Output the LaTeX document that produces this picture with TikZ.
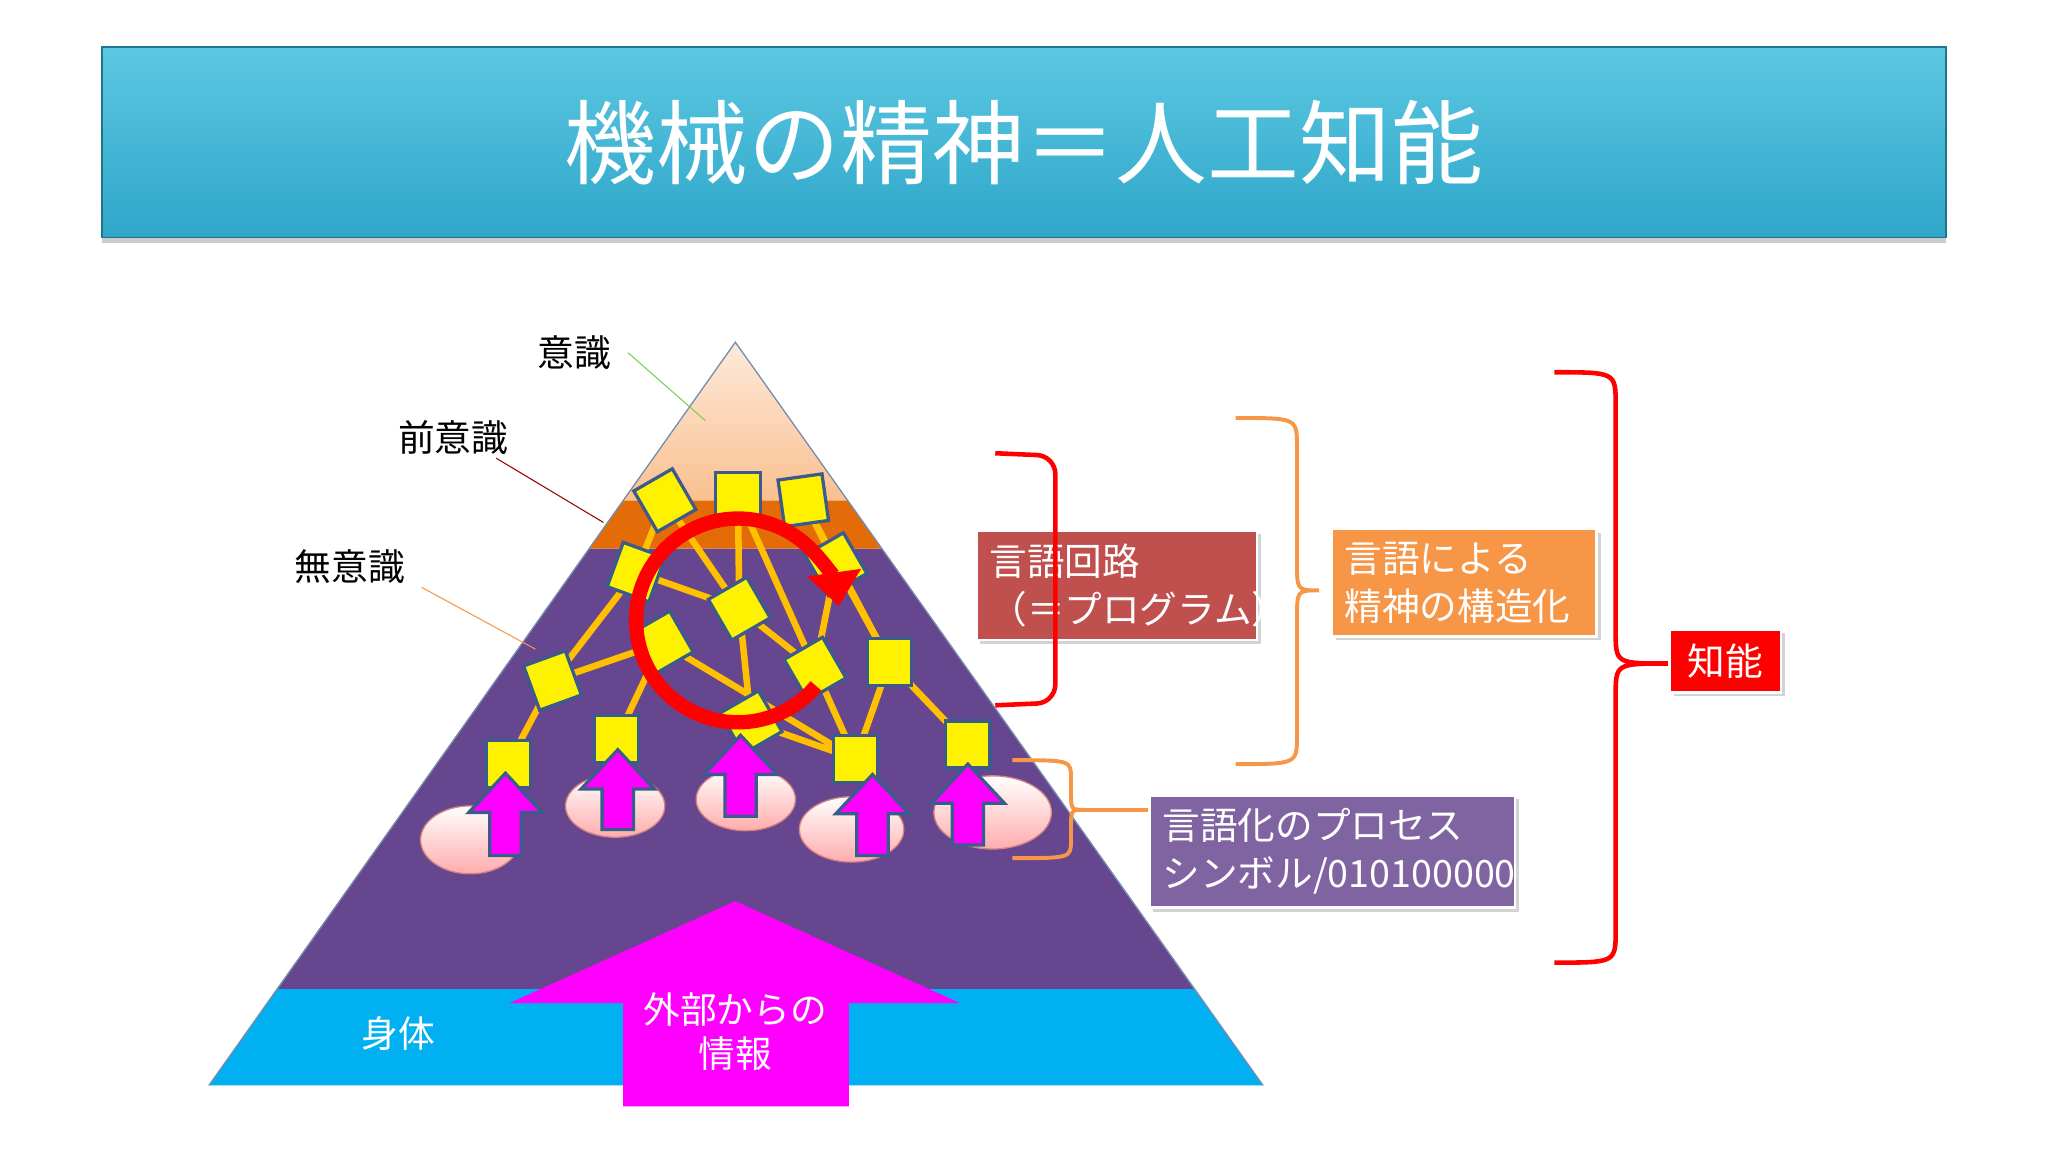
\documentclass[tikz,border=0pt]{standalone}
\usepackage{fontspec}
\setmainfont{Noto Sans CJK JP}
\usetikzlibrary{shadows,arrows.meta,calc}
\definecolor{tbar}{HTML}{2FA6C9}
\definecolor{tbarT}{HTML}{5CC8E2}
\definecolor{purp}{HTML}{66468E}
\definecolor{sky}{HTML}{00B0F0}
\definecolor{orng}{HTML}{E36C09}
\definecolor{peachT}{HTML}{FDEADA}
\definecolor{peachB}{HTML}{FAC090}
\definecolor{netc}{HTML}{FFC000}
\definecolor{sqb}{HTML}{3B5B8C}
\definecolor{boxred}{HTML}{C0504D}
\definecolor{boxor}{HTML}{F79646}
\definecolor{boxpu}{HTML}{8064A2}
\definecolor{mag}{HTML}{FF00FF}
\tikzset{
 sq/.style={draw=sqb,line width=0.25mm,fill=yellow,minimum width=3.4mm,minimum height=3.6mm,inner sep=0},
 net/.style={netc,line width=0.5mm},
 lbl/.style={font=\fontsize{8}{10}\selectfont,inner sep=0},
 tbox/.style={draw=white,line width=0.2mm,text=white,align=left,font=\fontsize{8.2}{10.5}\selectfont,drop shadow={opacity=0.35,shadow xshift=0.3mm,shadow yshift=-0.3mm},inner sep=1mm,anchor=center},
 pel/.style={draw=boxred!70,line width=0.1mm,top color=white,bottom color=pink!90!red},
 marr/.style={fill=mag,draw=sqb,line width=0.25mm,line join=miter},
}
\newcommand\magarr[3]{\filldraw[marr] (#1-12,#3) -- (#1+12,#3) -- (#1+12,#2+30) -- (#1+28,#2+30) -- (#1,#2) -- (#1-28,#2+30) -- (#1-12,#2+30) -- cycle;}
\newcommand\bracep[7]{(#1,#2) .. controls (#4,#2) .. (#4,#2+#7) -- (#4,#6-#7) .. controls (#4,#6) .. (#5,#6) .. controls (#4,#6) .. (#4,#6+#7) -- (#4,#3-#7) .. controls (#4,#3) .. (#1,#3)}
\begin{document}
\begin{tikzpicture}[x=0.1mm,y=-0.1mm]
\useasboundingbox (0,0) rectangle (1568,882);
% title
\node[draw=tbar!70!black,line width=0.1mm,top color=tbarT,bottom color=tbar,minimum width=141.2mm,minimum height=14.6mm,inner sep=0,drop shadow={opacity=0.4,shadow xshift=0mm,shadow yshift=-0.4mm},text=white,font=\fontsize{20}{24}\selectfont] (title) at (784,109) {機械の精神＝人工知能};
% pyramid
\fill[sky] (212,757) -- (914,757) -- (967,831) -- (160,831) -- cycle;
\fill[purp] (451,420) -- (675,420) -- (914,757) -- (212,757) -- cycle;
\fill[orng] (477,383) -- (649,383) -- (675,420) -- (451,420) -- cycle;
\shade[top color=peachT,bottom color=peachB] (563,262) -- (649,383) -- (477,383) -- cycle;
\draw[sqb!70,line width=0.1mm] (160,831) -- (563,262) -- (967,831);
% big arrow
\fill[mag] (477,847) -- (650,847) -- (650,768) -- (735,768) -- (563,690) -- (390,768) -- (477,768) -- cycle;
\node[text=white,align=center,lbl,font=\fontsize{8}{9.5}\selectfont] (ext) at (563,790) {外部からの\\情報};
\node[text=white,lbl] (body) at (305,791) {身体};
% labels
\node[lbl] (l1) at (440,270) {意識};
\node[lbl] (l2) at (347,335) {前意識};
\node[lbl] (l3) at (268,434) {無意識};
\coordinate (p1) at (540,322); \coordinate (p2) at (462,400); \coordinate (p3) at (410,497);
\draw[green!50!olive!70,line width=0.08mm] (l1.east) ++(12,0) -- (p1);
\draw[red!60!black,line width=0.08mm] (l2.south east) ++(-10,2) -- (p2);
\draw[boxor,line width=0.08mm] (l3.south east) ++(12,2) -- (p3);
% network nodes
\coordinate (A) at (509,383); \coordinate (B) at (565,380); \coordinate (C) at (615,383);
\coordinate (D) at (487,438); \coordinate (E) at (566,466); \coordinate (F) at (507,492);
\coordinate (G) at (640,432); \coordinate (H) at (681,507); \coordinate (I) at (624,512);
\coordinate (J) at (423,521); \coordinate (K) at (389,585); \coordinate (L) at (472,566);
\coordinate (M) at (575,553); \coordinate (N) at (655,581); \coordinate (O) at (741,570);
\draw[net] (K)--(J) (J)--(D) (J)--(F) (L)--(F) (D)--(E) (A)--(E) (B)--(E) (B)--(I)
 (C)--(G) (G)--(I) (E)--(I) (E)--(M) (F)--(N) (I)--(N) (M)--(N) (N)--(H) (H)--(O) (H)--(G) (C)--(H) (D)--(A);
\node[sq,rotate=30] (nA) at (A) {}; \node[sq] (nB) at (B) {}; \node[sq,rotate=8] (nC) at (C) {};
\node[sq,rotate=-20] (nD) at (D) {}; \node[sq,rotate=30] (nE) at (E) {}; \node[sq,rotate=30] (nF) at (F) {};
\node[sq,rotate=30] (nG) at (G) {}; \node[sq] (nH) at (H) {}; \node[sq,rotate=30] (nI) at (I) {};
\node[sq,rotate=20] (nJ) at (J) {}; \node[sq] (nK) at (K) {}; \node[sq] (nL) at (L) {};
\node[sq,rotate=30] (nM) at (M) {}; \node[sq] (nN) at (N) {}; \node[sq] (nO) at (O) {};
% ellipses
\draw[pel] (360,643) ellipse (38 and 26);
\draw[pel] (471,617) ellipse (38 and 24);
\draw[pel] (571,612) ellipse (38 and 24);
\draw[pel] (652,635) ellipse (40 and 25);
\draw[pel] (760,622) ellipse (45 and 28);
% small arrows
\magarr{387}{592}{655}
\magarr{473}{574}{635}
\magarr{567}{563}{625}
\magarr{668}{593}{655}
\magarr{741}{585}{647}
% red cycle
\draw[red,line width=1.1mm,-{Triangle[length=2.6mm,width=4mm]}] (565,475) ++(40:78) arc[start angle=40,end angle=352,radius=78];
% boxes
\node[tbox,fill=boxred,text width=19.5mm] (b1) at (855,448) {言語回路\\（＝プログラム）};
\node[tbox,fill=boxor,text width=18.3mm] (b2) at (1121,446) {言語による\\精神の構造化};
\node[tbox,fill=boxpu,text width=26mm] (b3) at (1020,652) {言語化のプロセス\\シンボル/010100000};
\node[tbox,fill=red,inner sep=0.6mm,minimum width=8.5mm,minimum height=4.8mm,align=center] (b4) at (1321,506) {知能};
% brackets
\draw[red,line width=0.35mm,rounded corners=1.4mm] (762,347) -- (808,349) -- (808,538) -- (762,540);
\draw[boxor,line width=0.3mm] \bracep{946}{320}{585}{993}{1010}{452}{22};
\draw[boxor,line width=0.3mm] \bracep{775}{582}{657}{820}{830}{620}{14};
\coordinate (t3) at (830,620);
\draw[boxor,line width=0.3mm] (t3) -- (b3.west|-t3);
\draw[red,line width=0.35mm] \bracep{1190}{285}{737}{1237}{1277}{508}{25};
\end{tikzpicture}
\end{document}
